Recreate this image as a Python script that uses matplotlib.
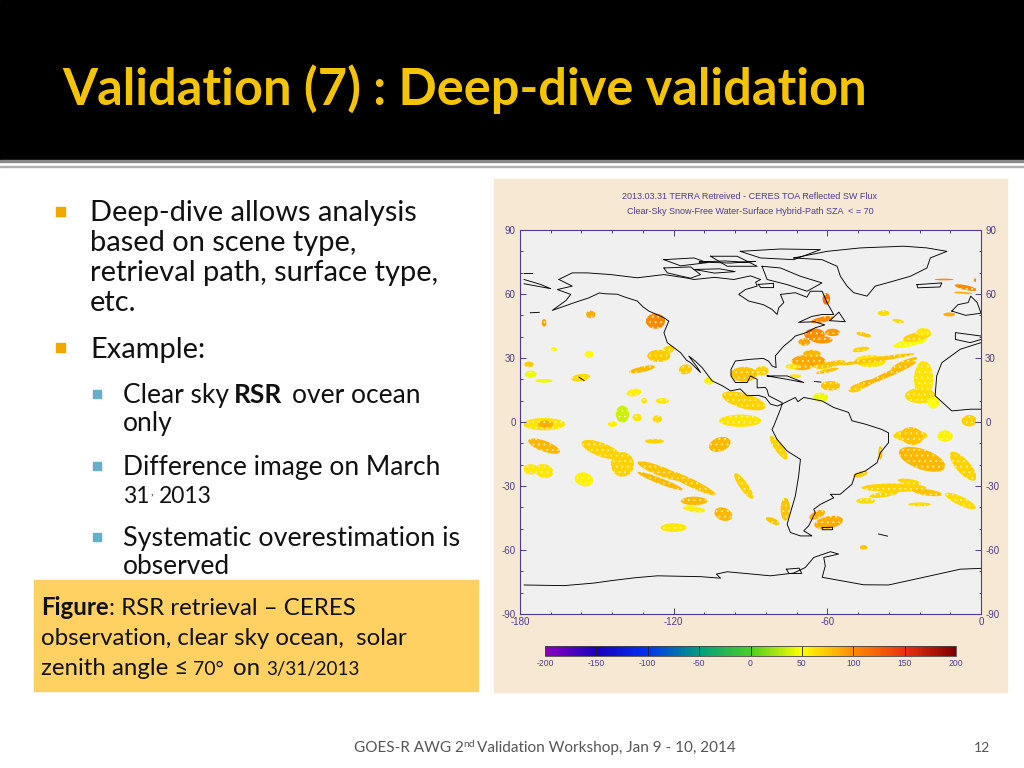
import numpy as np
import matplotlib
matplotlib.use('Agg')
import matplotlib.pyplot as plt
from matplotlib.colors import LinearSegmentedColormap, Normalize
from matplotlib.cm import ScalarMappable
from matplotlib.patches import Ellipse, Rectangle
from matplotlib.collections import PatchCollection

plt.rcParams['axes.unicode_minus'] = False
plt.rcParams['hatch.linewidth'] = 0.6

W, H = 1024, 768

title = "Validation (7) : Deep-dive validation"
map_title1 = "2013.03.31 TERRA Retreived - CERES TOA Reflected SW Flux"
map_title2 = "Clear-Sky Snow-Free Water-Surface Hybrid-Path SZA  < = 70"
footer = "GOES-R AWG 2"
lat_ticks = [-90, -60, -30, 0, 30, 60, 90]
lon_ticks = [-180, -120, -60, 0]
cbar_ticks = [-200, -150, -100, -50, 0, 50, 100, 150, 200]

# coastlines, lon/lat
north_america_w = [(-164.8, 66.8), (-159.6, 63.7), (-165.4, 62.1), (-160.2, 59.8), (-162, 57), (-167.4, 52.3), (-158.9, 55.9), (-153.1, 58.2),
                   (-149, 60.5), (-146.6, 60.1), (-142, 59.9), (-139.4, 58.7), (-134.2, 56.7), (-132, 54), (-129.7, 52), (-124, 49), (-121.9, 47.3),
                   (-123.8, 41.9), (-122.5, 37.2), (-117.3, 32.5), (-115, 29), (-113.4, 27.8), (-109.5, 23.2), (-111, 26), (-114.1, 30.9),
                   (-111.5, 28.5), (-108.9, 25.5), (-105, 19.3), (-101, 17), (-97.8, 14.6), (-94, 15.5), (-91.3, 12.3), (-87, 12.5), (-84.2, 11.5),
                   (-82.2, 8.4), (-79.5, 7.5), (-77.7, 8.4)]
north_america_e = [(-77.7, 9.1), (-82.9, 12.3), (-83.5, 15), (-84.2, 16.2), (-87.4, 16), (-87.4, 20), (-90, 21.6), (-91.3, 18.5), (-95.9, 18.5), (-97.6, 21.6),
                   (-97.6, 24.7), (-95.9, 28.6), (-90, 29.4), (-85, 29.8), (-82.9, 28.5), (-81.6, 26.3), (-80, 25.5), (-80.3, 31), (-77, 35.6), (-74, 38.5),
                   (-72.5, 40.3), (-68, 42), (-64.7, 44.2), (-61, 45.5), (-65, 47), (-71.2, 46.7), (-66, 49.5), (-62, 50.4), (-57.5, 50.4),
                   (-60.1, 55.9), (-62, 61.3), (-66.6, 61.3), (-68, 58.5), (-72.5, 60.6), (-78.3, 59.8), (-77, 56), (-79, 53.5), (-79.6, 50.4), (-81.6, 52.8),
                   (-85, 55), (-90.7, 56.7), (-94.6, 59.8), (-92, 62.1), (-87.4, 63.7), (-88, 65.5), (-86.1, 66.8)]
north_america_n = [(-164.8, 66.8), (-163.5, 67.6), (-159.6, 69.9), (-153.7, 69.9), (-144.6, 69.1), (-134.2, 67.6), (-123.8, 69.1),
                   (-115, 67.5), (-112.1, 66.8), (-104, 67.8), (-96.5, 66.8), (-90, 68.5), (-86.1, 66.8)]
south_america = [(-77.7, 8.4), (-72.5, 11.5), (-71.5, 9.5), (-69.2, 11.5), (-62.1, 9.9), (-57.5, 6.8), (-51.7, 4.5), (-50.4, 0.6), (-45.2, -1),
                 (-38.7, -3.5), (-36.1, -5.1), (-36.1, -9.7), (-39.3, -14.4), (-40.6, -19.1), (-45.2, -23), (-49.1, -24.5),
                 (-50.4, -29.2), (-55, -33.9), (-58.8, -33.9), (-57.5, -35.5), (-62.7, -38.6), (-65.3, -40.9), (-64.7, -42.5),
                 (-67.3, -48.7), (-69.2, -51), (-66, -53.4), (-70.5, -53.4), (-74.4, -51.8), (-75.7, -47.9), (-74.4, -42.5),
                 (-72.5, -34.7), (-71.2, -25.3), (-70.5, -17.5), (-75.7, -13.6), (-79.6, -8.2), (-81.6, -3.5), (-80.9, -1.8),
                 (-78.3, 6), (-77.7, 8.4)]
greenland = [(-73.1, 76.9), (-60.1, 80), (-47.1, 81.6), (-30.2, 82.4), (-21.1, 81.6), (-13.3, 80), (-19.8, 76.9), (-21.1, 72.2),
             (-27.6, 68.3), (-36.7, 65.2), (-41.3, 63.7), (-44.5, 59), (-49.7, 60.6), (-52.3, 63.7), (-54.9, 68.3), (-56.2, 73),
             (-62.1, 76.1), (-73.1, 76.9)]
baffin = [(-85.5, 73), (-78.3, 72.2), (-70.5, 68.3), (-62.1, 65.2), (-67.9, 61.3), (-75.7, 64.4), (-83.5, 66.8), (-85.5, 73)]
victoria = [(-123.8, 72.2), (-113.4, 72.7), (-109.5, 69.1), (-113.4, 67.4), (-122.5, 69.9), (-123.8, 72.2)]
ellesmere = [(-94, 80), (-78.3, 81.1), (-62.7, 80.8), (-73.1, 76.1), (-86.1, 76.9), (-94, 80)]
banks = [(-123.8, 76.1), (-112.1, 76.9), (-106.9, 74.7), (-117.3, 73.2), (-123.8, 76.1)]
parry = [(-105.6, 77.7), (-95.2, 77.7), (-87.4, 73), (-99.1, 73), (-105.6, 77.7)]
isl_a = [(-110, 75), (-100, 75.5), (-92, 74.9), (-88, 75.3), (-98, 74.5), (-110, 75)]
isl_b = [(-87, 64.5), (-81, 65), (-81, 63), (-86, 63), (-87, 64.5)]
isl_c = [(-112, 71.5), (-102, 71.8), (-96, 70.5), (-104, 69.8), (-112, 71.5)]
newfoundland = [(-59, 47.5), (-55.5, 51.5), (-53, 47), (-59, 47.5)]
iceland = [(-25, 64.4), (-15.3, 65.2), (-16, 63.3), (-24.7, 62.9), (-25, 64.4)]
britain = [(-11.4, 52), (-9, 55), (-5, 56), (-4, 59), (-1.5, 56), (0, 51), (-6, 50), (-11.4, 52)]
iberia = [(0, 40.3), (-10, 41.9), (-10, 38.7), (-4.2, 37.2), (0, 38.7)]
africa = [(0, 37.2), (-8.1, 34.1), (-15.3, 27.8), (-17.3, 21.6), (-17.9, 12.3), (-11.4, 5.2), (-4.2, 6), (0, 6)]
cuba = [(-83.5, 21.6), (-75.7, 21.6), (-69.2, 18.5), (-75.7, 20), (-83.5, 21.6)]
jamaica = [(-65, 19), (-62.5, 18.7)]
siberia = [(-178.4, 66.8), (-172, 64.5), (-168, 62.5), (-178.4, 64.8)]
siberia_b = [(-178.4, 69.8), (-175.5, 69.8)]
hawaii = [(-157, 21), (-155, 19.5)]
aleutian = [(-176, 51.2), (-172.5, 51.4)]
antarctica = [(-178.4, -76.4), (-162.8, -76.7), (-151.1, -75.5), (-144.6, -74.4), (-135, -73), (-126.4, -72.1), (-109.5, -72.5), (-101.7, -73.2),
              (-103.3, -71.3), (-99.1, -70.2), (-82.2, -72.1), (-73.1, -70.8), (-68.6, -68.2), (-65.3, -63.5), (-58.8, -60.8),
              (-55.6, -61.9), (-61.4, -63.5), (-60.8, -67.4), (-62, -72.8), (-45.8, -76.3), (-36.1, -76.4), (-22.4, -72.8),
              (-8.1, -69), (0, -68.6)]
alexander = [(-76, -69), (-71, -68.5), (-70, -71), (-75, -71), (-76, -69)]
falklands = [(-62, -49.5), (-58, -49.3), (-58, -50.5), (-62, -50.5), (-62, -49.5)]
georgia = [(-40, -52.5), (-36.5, -53.5)]
coast_lines = [north_america_w, north_america_e, north_america_n, south_america, greenland, baffin, victoria, ellesmere, banks,
               parry, isl_a, isl_b, isl_c, newfoundland, iceland, britain, iberia, africa, cuba, jamaica, siberia, siberia_b,
               hawaii, aleutian, antarctica, alexander, falklands, georgia]

# RSR difference blobs: centre, size in degrees, tilt, W/m2
blob_lon = [-127.1, -170.6, -152.4, -65, -62, -69, -58, -62, -60.4, -67.3, -70, -62, -66, -125.8, -122, -132.3, -115.4, -176.5, -175.8, -170.6, -156.3, -153, -166.7,
            -135.5, -124.4, -131.5, -140, -134.2, -126.4, -143.9, -170.6, -170, -94, -92.6, -92.6, -106.3, -85.5, -58.8, -43.2,
            -35.4, -46, -30, -27.6, -40.6, -60, -47, -25, -22.5, -48.5, -73.5, -72.5,
            -22.4, -23.7, -18.5, -58.8, -62.7, -45.8, -38, -12.4, -5.9, -14.4, -2, -6.9, -32.3, -4.6, -27.6,
            -170.6, -175.8, -170.6, -155, -148.4, -140, -125.2, -125.2, -113.5, -112, -112, -100.6, -120, -102, -127.5, -92.6,
            -76.4, -79, -81.3, -59.5, -64, -47.1, -39.3, -23, -27, -14, -7, -34, -21, -8, -45, -24, -45.8, -38, -28]
blob_lat = [47.3, 46.5, 50.4, 41, 48, 37.5, 42, 38.5, 57.7, 28.6, 26, 26, 32, 31, 34, 24.7, 24.7, 27, 22.4, 19.3, 20.8, 31.7, 34.1,
            13.8, 9.9, 9.9, 3.7, 2.1, 1.4, -1, -1, -1, 0.6, 9.9, 22.4, 19.3, 24, 27, 28.6,
            22.8, 17.5, 27.5, 37.2, 29.4, 24, 34, 40, 42, 16, 26, 21.5,
            20, 12.3, 9, 17, 11.5, 41, 51, 50.4, 63, 66.8, 66.5, 60.5, 47.3, 0.6, -6.4,
            -11.3, -22.2, -23, -26.9, -12.9, -19.9, -23, -27.7, -28.4, -37, -40.9, -43.2, -49.5, -10.5, -9, -30,
            -40.9, -12, -46.4, -47.1, -43.5, -24.5, -14.4, -17.5, -6.6, -6.6, -20.7, -30.8, -33, -37, -37, -38.6, -58.8, -34, -28]
blob_w = [6.5, 1.6, 3.2, 7, 7.8, 4, 5, 7, 2.6, 11.7, 7, 6, 6, 7.8, 4, 9.1, 4.6, 3.2, 4, 5.8, 6.5, 3, 2,
          5.2, 4.5, 2, 4.5, 3.2, 3.2, 3.2, 14.3, 5.2, 14.3, 15.6, 9, 3.2, 4.5, 10.4, 10.4,
          20, 8, 10, 12, 26, 8, 6, 10, 5, 6, 5, 4,
          6.5, 10.4, 4, 6.5, 5.2, 5.2, 4, 4, 7.8, 6.5, 1.5, 6.5, 4, 5.2, 11.7,
          11.7, 5.2, 6.5, 6.5, 14.3, 7.8, 17, 17, 20, 9, 7.8, 6.5, 9, 7.8, 6.5, 12,
          3.2, 11, 5.2, 10, 6, 5.2, 1.4, 17, 7.8, 5.2, 14, 22, 10.4, 12, 6.5, 7.8, 2.6, 10, 8]
blob_h = [6.2, 3.1, 3.1, 5, 2.3, 3, 3, 3, 4.7, 5, 3, 2, 3, 5, 3, 2.3, 3.9, 2.3, 3, 1.5, 3, 3, 1.6,
          3, 2.3, 2.3, 7, 3, 3, 2.3, 5, 3, 5, 6, 6, 3, 3.9, 2.3, 5,
          2.2, 2.6, 2.2, 3, 1.8, 1.5, 2, 3.5, 3.5, 3, 2, 1.5,
          15, 6.2, 4.7, 3.9, 3.9, 1.6, 2.3, 1.6, 1.9, 0.7, 1.5, 0.8, 1.6, 4.7, 4.7,
          4.2, 4.2, 5.5, 5.5, 5.5, 10, 3.8, 2.4, 3.2, 3.5, 2.3, 5, 3.5, 5.5, 1.9, 3,
          9.3, 3, 2.3, 5, 3, 2.3, 5.5, 8, 7, 4.7, 5, 3.5, 2.6, 3.5, 2.3, 1.6, 1.9, 2.2, 2.2]
blob_tilt = [0, 0, 0, 0, 15, 0, 0, 0, 0, 0, 0, 0, 0, 0, 20, 15, 30, 0, 0, 0, 10, 0, 0,
             15, 0, 0, 0, 0, 0, 0, 0, 0, 0, -20, 0, -30, 0, 15, 0,
             28, 25, 28, 15, 10, 15, 10, 15, 0, 25, 0, 0,
             0, 0, 0, 0, 0, -15, 0, 0, -15, 0, 0, -5, -15, 0, 0,
             -25, 0, -30, -30, -25, 0, -25, -25, -30, 0, -10, -35, 0, 30, 0, -60,
             0, -60, -30, 15, 30, 20, 0, -25, -40, 0, -55, 0, -10, -30, 0, 0, 0, 10, -10]
blob_val = [100, 90, 85, 100, 100, 90, 95, 95, 115, 88, 85, 65, 82, 72, 68, 80, 72, 72, 45, 45, 65, 50, 55,
            55, 60, 60, 35, 60, 65, 55, 62, 85, 62, 70, 75, 55, 70, 75, 62,
            80, 82, 78, 48, 75, 75, 70, 70, 60, 72, 62, 60,
            62, 65, 50, 75, 45, 75, 65, 85, 100, 100, 100, 85, 65, 70, 65,
            80, 60, 60, 55, 70, 70, 75, 80, 75, 80, 55, 80, 60, 80, 70, 70,
            75, 70, 75, 85, 82, 70, 75, 80, 75, 55, 70, 70, 75, 65, 65, 65, 75, 68, 68]

cmap = LinearSegmentedColormap.from_list("rsr", [(0.55, 0, 0.75), (0.1, 0, 0.75), (0, 0.2, 0.95), (0, 0.62, 0.5), (0.3, 0.8, 0.15),
                                                 (1, 1, 0), (1, 0.55, 0), (0.93, 0.2, 0.05), (0.5, 0, 0)])
norm = Normalize(-200, 200)
purple = '#4A3C90'
sea = '#F0F0F0'

fig = plt.figure(figsize=(W / 100, H / 100), dpi=100, facecolor='white')

# slide layer in pixels
bg = fig.add_axes([0, 0, 1, 1])
bg.set_xlim(0, W)
bg.set_ylim(H, 0)
bg.axis('off')
bg.add_patch(Rectangle((0, 0), W, 160, color='black'))
bg.add_patch(Rectangle((0, 160), W, 1.5, color='#8a8a8a'))
bg.add_patch(Rectangle((0, 165.5), W, 1.5, color='#b0b0b0'))
bg.add_patch(Rectangle((494, 179), 513, 513, color='#F7E8D3'))
bg.add_patch(Rectangle((34, 580), 444, 111, color='#FFD162'))

bg.text(62, 105, title, color='#F5C400', fontsize=36.4, fontweight='bold', family='Lato', va='baseline')


def txt(x, y, s, size=20.9, weight='normal', color='#111111'):
    bg.text(x, y, s, fontsize=size, fontweight=weight, color=color, family='Lato', va='baseline')


for yb, s in zip([221, 251, 281, 311], ["Deep-dive allows analysis", "based on scene type,", "retrieval path, surface type,", "etc."]):
    txt(90, yb, s)
txt(90, 358, "Example:")
for yb in [212, 348]:
    bg.add_patch(Rectangle((56, yb - 5), 9, 9, color='#F0A800'))

txt(123, 403, "Clear sky", 19)
txt(234, 403, "RSR", 19, 'bold')
txt(292, 403, "over ocean", 19)
txt(123, 431, "only", 19)
txt(123, 475, "Difference image on March", 19)
txt(123, 503, "31", 16.5)
txt(150, 495, ",", 8)
txt(159, 503, "2013", 16.5)
txt(123, 546, "Systematic overestimation is", 19.4)
txt(123, 574, "observed", 19)
for yb in [394, 466, 537]:
    bg.add_patch(Rectangle((93, yb - 4), 8, 8, color='#63B1C8'))

txt(41, 615, "Figure", 17.3, 'bold')
txt(109, 615, ": RSR retrieval \u2013 CERES", 17.3)
txt(41, 645, "observation, clear sky ocean,  solar", 17.3)
txt(41, 675, "zenith angle \u2264", 17.3)
txt(193, 675, "70\u00b0", 14)
txt(233, 675, "on", 17.3)
txt(266, 675, "3/31/2013", 13.5)

txt(354, 752, footer, 11, color='#555555')
txt(463, 747, "nd", 7.5, color='#555555')
txt(477, 752, "Validation Workshop, Jan 9 - 10, 2014", 11, color='#555555')
txt(974, 752, "12", 10, color='#555555')

bg.text(750, 199, map_title1, fontsize=6.5, color=purple, family='Liberation Sans', ha='center')
bg.text(750, 214, map_title2, fontsize=6.5, color=purple, family='Liberation Sans', ha='center')

# map
ax = fig.add_axes([520 / W, 1 - 614 / H, 461 / W, 384 / H])
ax.set_facecolor(sea)
ax.set_xlim(-180, 0)
ax.set_ylim(-90, 90)
clip = Rectangle((-178.4, -90), 176.4, 180, transform=ax.transData)

# pale yellow stipple inside the blobs, the retrieval field is speckled
blobs = [Ellipse((x, y), w * 1.15, h * 1.15, angle=a) for x, y, w, h, a in zip(blob_lon, blob_lat, blob_w, blob_h, blob_tilt)]
coll = PatchCollection(blobs, cmap=cmap, norm=norm, edgecolor='#FFF3A0', linewidth=0, hatch='...')
coll.set_array(np.array(blob_val, dtype=float))
ax.add_collection(coll)
coll.set_clip_path(clip)

for line in coast_lines:
    lons, lats = zip(*line)
    ax.plot(lons, lats, color='black', lw=0.65)

ax.set_xticks(lon_ticks)
ax.set_xticks(np.arange(-180, 1, 12), minor=True)
ax.set_yticks(lat_ticks)
ax.set_yticks(np.arange(-90, 91, 10), minor=True)
ax.tick_params(which='both', direction='in', top=True, right=True, color=purple, labelcolor=purple, labelsize=7, width=0.7)
ax.tick_params(which='major', length=4.5, pad=2.5)
ax.tick_params(which='minor', length=1.8)
ax.tick_params(axis='y', labelright=True, pad=3)
for s in ax.spines.values():
    s.set_color(purple)
    s.set_linewidth(0.8)
for lab in ax.get_xticklabels() + ax.get_yticklabels():
    lab.set_family('Liberation Sans')

# colorbar
cax = fig.add_axes([545 / W, 1 - 656 / H, 411 / W, 10 / H])
cb = fig.colorbar(ScalarMappable(norm=norm, cmap=cmap), cax=cax, orientation='horizontal', ticks=cbar_ticks)
cb.outline.set_edgecolor('#444444')
cb.outline.set_linewidth(0.6)
cax.tick_params(length=0, pad=2, labelsize=6.2, labelcolor=purple)
for v in cbar_ticks:
    cax.axvline(v, color='#222222', lw=0.6)
for lab in cax.get_xticklabels():
    lab.set_family('Liberation Sans')

fig.savefig('out.png', dpi=100)
